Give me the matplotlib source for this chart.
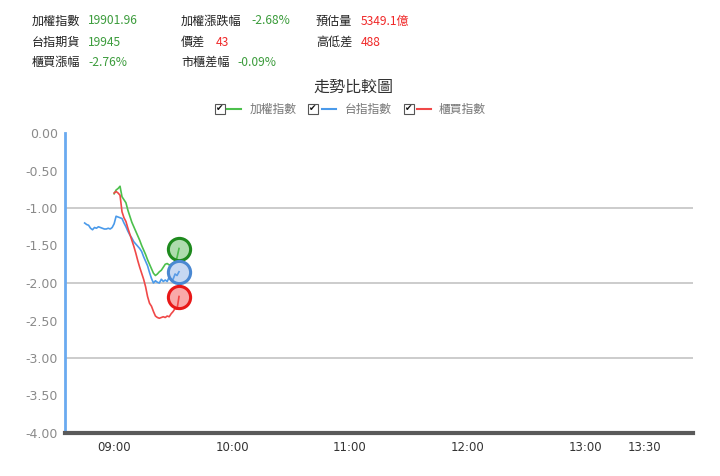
import matplotlib
matplotlib.use("Agg")
import matplotlib.pyplot as plt
from matplotlib.patches import Rectangle
from matplotlib.lines import Line2D

plt.rcParams['font.family'] = ['Noto Sans CJK TC', 'DejaVu Sans']

# ---------------- data ----------------
series_names = ['加權指數', '台指指數', '櫃買指數']

# minutes from 09:00
taiex_min = list(range(0, 34))
taiex = [-0.81, -0.76, -0.74, -0.71, -0.85, -0.89, -0.93, -1.03, -1.11, -1.19,
         -1.25, -1.31, -1.37, -1.43, -1.50, -1.56, -1.62, -1.69, -1.75, -1.81,
         -1.87, -1.90, -1.88, -1.85, -1.83, -1.79, -1.75, -1.74, -1.76, -1.75,
         -1.73, -1.72, -1.66, -1.54]

fut_min = list(range(-15, 34))
fut = [-1.20, -1.22, -1.23, -1.27, -1.29, -1.26, -1.27, -1.25, -1.26, -1.27,
       -1.28, -1.28, -1.27, -1.28, -1.26, -1.21, -1.11, -1.12, -1.13, -1.14,
       -1.20, -1.25, -1.31, -1.36, -1.40, -1.45, -1.48, -1.51, -1.54, -1.58,
       -1.65, -1.71, -1.77, -1.86, -1.94, -2.00, -1.97, -1.99, -2.00, -1.95,
       -1.98, -1.96, -1.98, -1.92, -1.96, -1.95, -1.88, -1.90, -1.85]

otc_min = list(range(0, 34))
otc = [-0.80, -0.78, -0.80, -0.83, -1.05, -1.13, -1.18, -1.27, -1.35, -1.43,
       -1.51, -1.60, -1.70, -1.79, -1.87, -1.95, -2.05, -2.18, -2.27, -2.31,
       -2.38, -2.44, -2.46, -2.47, -2.46, -2.45, -2.46, -2.44, -2.45, -2.41,
       -2.38, -2.34, -2.35, -2.18]

x_ticks = [0, 60, 120, 180, 240, 270]
x_ticklabels = ['09:00', '10:00', '11:00', '12:00', '13:00', '13:30']
y_ticks = [0.0, -0.5, -1.0, -1.5, -2.0, -2.5, -3.0, -3.5, -4.0]
y_ticklabels = ['0.00', '-0.50', '-1.00', '-1.50', '-2.00', '-2.50', '-3.00', '-3.50', '-4.00']
grid_levels = [-1.0, -2.0, -3.0]

header_rows = [
    [('加權指數', '19901.96', 'g'), ('加權漲跌幅', '-2.68%', 'g'), ('預估量', '5349.1億', 'r')],
    [('台指期貨', '19945', 'g'), ('價差', '43', 'r'), ('高低差', '488', 'r')],
    [('櫃買漲幅', '-2.76%', 'g'), ('市櫃差幅', '-0.09%', 'g')],
]
title = '走勢比較圖'

# ---------------- styles ----------------
W, H = 720, 476
GREEN_T = '#3c9c3c'
RED_T = '#f02828'
line_colors = ['#4cc04c', '#4a9aea', '#f04848']
edge_colors = ['#1e8a1e', '#4a88d2', '#e81818']
face_colors = [(0.30, 0.70, 0.30, 0.45), (0.45, 0.62, 0.88, 0.40), (0.95, 0.25, 0.25, 0.45)]

fig = plt.figure(figsize=(W / 100, H / 100), dpi=100)
fig.patch.set_facecolor('white')


def fx(px):
    return px / W


def fy(py):
    return 1 - py / H


ax = fig.add_axes([fx(65), fy(433), fx(693) - fx(65), fy(133) - fy(433)])
ax.set_xlim(-25, 294.5)
ax.set_ylim(-4.0, 0.0)

for lv in grid_levels:
    ax.axhline(lv, color='#c4c4c4', lw=1.2, zorder=1)

xs = [taiex_min, fut_min, otc_min]
ys = [taiex, fut, otc]
for i in range(3):
    ax.plot(xs[i], ys[i], color=line_colors[i], lw=1.2, zorder=3, clip_on=False)
    ax.plot([xs[i][-1]], [ys[i][-1]], marker='o', ms=16, mew=2.2,
            mec=edge_colors[i], mfc=face_colors[i], zorder=4, clip_on=False)

for s in ['top', 'right']:
    ax.spines[s].set_visible(False)
ax.spines['left'].set_color('#6aaaf0')
ax.spines['left'].set_linewidth(2)
ax.spines['bottom'].set_color('#5a5a5a')
ax.spines['bottom'].set_linewidth(3)
ax.spines['bottom'].set_zorder(5)

ax.set_xticks(x_ticks)
ax.set_xticklabels(x_ticklabels, family='DejaVu Sans', fontsize=8.5, color='#333333')
ax.set_yticks(y_ticks)
ax.set_yticklabels(y_ticklabels, family='DejaVu Sans', fontsize=9, color='#8a8a8a')
ax.tick_params(axis='both', length=0)
ax.tick_params(axis='x', pad=6)
ax.tick_params(axis='y', pad=5)

# ---------------- header ----------------
col_label_x = [32, 181, 316]
col_value_x = [[88, 251, 361], [88, 216, 361], [88, 237]]
row_y = [21, 42, 62]
for r, row in enumerate(header_rows):
    for c, (lab, val, col) in enumerate(row):
        fig.text(fx(col_label_x[c]), fy(row_y[r]), lab, fontsize=8.7, color='#222222',
                 ha='left', va='center')
        fig.text(fx(col_value_x[r][c]), fy(row_y[r]), val, fontsize=8.7,
                 color=GREEN_T if col == 'g' else RED_T, ha='left', va='center')

fig.text(fx(353), fy(87), title, fontsize=11.5, color='#333333', ha='center', va='center')

# ---------------- legend ----------------
leg_box_x = [215, 308, 404]
leg_line_x = [227, 322, 417]
leg_text_x = [250, 345, 439]
ly = 109
for i in range(3):
    fig.patches.append(Rectangle((fx(leg_box_x[i]), fy(ly + 5)), fx(10), 10 / H,
                                 transform=fig.transFigure, facecolor='white',
                                 edgecolor='#555555', lw=0.8))
    fig.text(fx(leg_box_x[i] + 5), fy(ly), '✔', family='DejaVu Sans', fontsize=6.5,
             color='#111111', ha='center', va='center')
    fig.lines.append(Line2D([fx(leg_line_x[i]), fx(leg_line_x[i] + 14)], [fy(ly), fy(ly)],
                            transform=fig.transFigure, color=line_colors[i], lw=1.5))
    fig.text(fx(leg_text_x[i]), fy(ly), series_names[i], fontsize=8.5, color='#777777',
             ha='left', va='center')

fig.savefig('out.png', dpi=100, facecolor='white')
